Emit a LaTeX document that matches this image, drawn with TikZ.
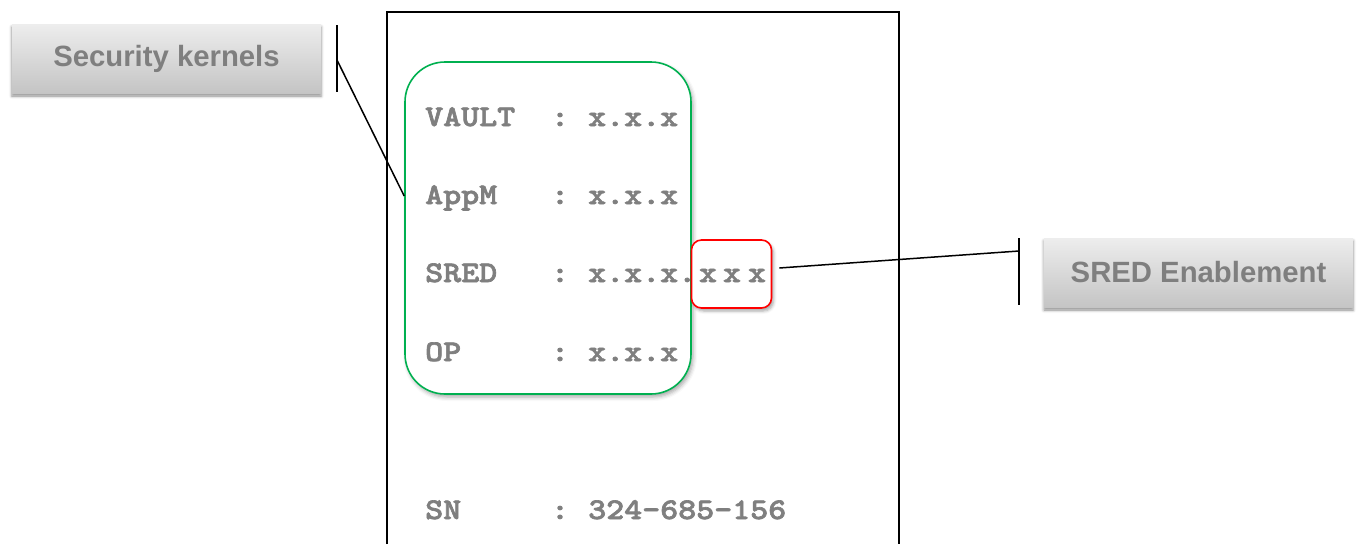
\documentclass[tikz,border=0pt]{standalone}
\usepackage{fontspec}
\usetikzlibrary{shadows.blur}
\newfontfamily\labelfont{Liberation Sans}
\newfontfamily\codefont{lmmonolt10-bold.otf}[FakeStretch=1.143, FakeBold=2.2]
\definecolor{txtgray}{RGB}{127,127,127}
\definecolor{kgreen}{RGB}{0,176,80}
\definecolor{kred}{RGB}{255,0,0}
\tikzset{
  code/.style={inner sep=0pt, text=txtgray, font=\codefont\fontsize{30}{30}\selectfont},
  callout/.style={minimum width=309, minimum height=69, inner sep=0pt,
    top color=gray!14, bottom color=gray!46,
    text=txtgray, font=\labelfont\bfseries\fontsize{29.3}{30}\selectfont,
    blur shadow={shadow xshift=0pt, shadow yshift=-3pt, shadow blur radius=3pt, shadow opacity=45}},
  wire/.style={draw=black, line width=1.5},
  frame/.style={draw=black, line width=1.1}
}
\begin{document}
\begin{tikzpicture}[x=1pt,y=-1pt]
\useasboundingbox (0,0) rectangle (1359,544);

% label panel (open at the bottom)
\coordinate (fbl) at (387,544);
\coordinate (ftl) at (387,12);
\coordinate (ftr) at (899,12);
\coordinate (fbr) at (899,544);
\draw[frame] (fbl) -- (ftl) -- (ftr) -- (fbr);

% group of security kernels
\node[draw=kgreen, line width=1.6, rounded corners=40, fill=white,
      minimum width=286, minimum height=332, inner sep=0pt,
      blur shadow={shadow xshift=2pt, shadow yshift=-3pt, shadow blur radius=4pt, shadow opacity=35}]
      (kbox) at (548,228) {};

% SRED enablement digits
\node[draw=kred, line width=1.6, rounded corners=10, fill=white,
      minimum width=80, minimum height=68, inner sep=0pt,
      blur shadow={shadow xshift=2pt, shadow yshift=-3pt, shadow blur radius=3pt, shadow opacity=35}]
      (sbox) at (731.5,274) {};

% version rows
\node[code, anchor=base west] (vk) at (425,126) {VAULT};
\node[code, anchor=base] (vc) at (560,126) {:};
\node[code, anchor=base west] (vv) at (588,126) {x.x.x};

\node[code, anchor=base west] (ak) at (425,204) {AppM};
\node[code, anchor=base] (ac) at (560,204) {:};
\node[code, anchor=base west] (av) at (588,204) {x.x.x};

\node[code, anchor=base west] (sk) at (425,282) {SRED};
\node[code, anchor=base] (sc) at (560,282) {:};
\node[code, anchor=base west] (sv) at (588,282) {x.x.x.};
\node[code, anchor=base] (sx1) at (708,282) {x};
\node[code, anchor=base] (sx2) at (732,282) {x};
\node[code, anchor=base] (sx3) at (757,282) {x};

\node[code, anchor=base west] (ok) at (425,361) {OP};
\node[code, anchor=base] (oc) at (560,361) {:};
\node[code, anchor=base west] (ov) at (588,361) {x.x.x};

\node[code, anchor=base west] (nk) at (425,519) {SN};
\node[code, anchor=base] (nc) at (560,519) {:};
\node[code, anchor=base west] (nv) at (588,519) {324-685-156};

% callouts
\node[callout] (sec) at (166.5,58.5) {Security kernels};
\node[callout] (sred) at (1198.5,272.5) {SRED Enablement};

% leader to the kernel group
\coordinate (secT) at (337,25);
\coordinate (secB) at (337,92);
\coordinate (secJ) at (337,60);
\coordinate (kin) at (kbox.west |- 0,196);
\draw[wire] (secT) -- (secB);
\draw[wire] (secJ) -- (kin);

% leader to the SRED digits
\coordinate (sredT) at (1019,238);
\coordinate (sredB) at (1019,305);
\coordinate (sredJ) at (1019,251);
\coordinate (sout) at ([xshift=7pt]sbox.east |- 0,268);
\draw[wire] (sredT) -- (sredB);
\draw[wire] (sout) -- (sredJ);
\end{tikzpicture}
\end{document}
